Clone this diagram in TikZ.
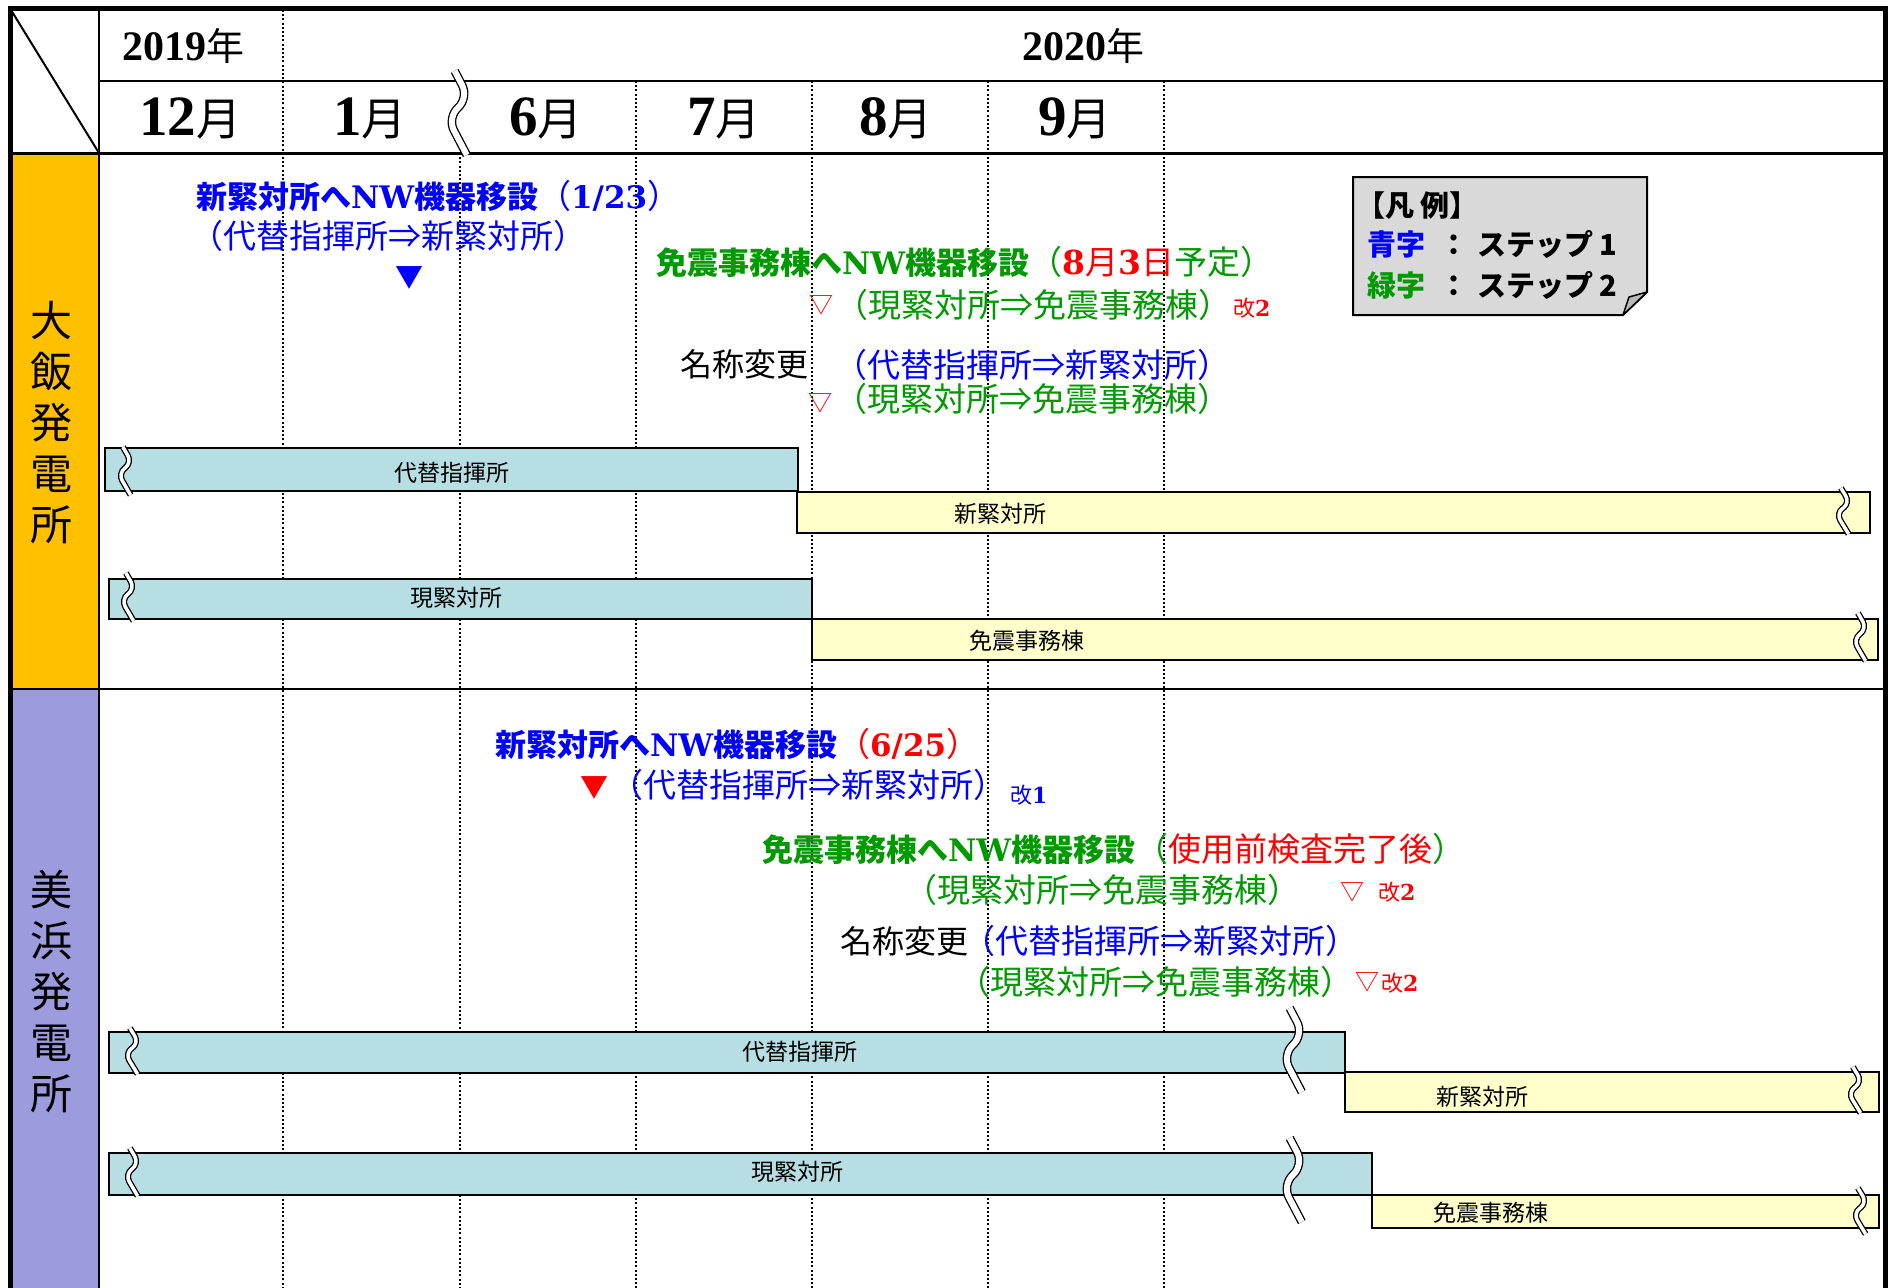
\documentclass[tikz,border=0pt]{standalone}
\usepackage{fontspec}
\setmainfont{Noto Sans CJK JP}
\newfontfamily\jpf{Noto Sans CJK JP}
\newfontfamily\lsf{Liberation Serif}
\newfontfamily\dsf{DejaVu Serif}
\definecolor{myblue}{RGB}{0,0,255}
\definecolor{mygreen}{RGB}{0,153,0}
\definecolor{myred}{RGB}{255,0,0}
\definecolor{orng}{RGB}{255,192,0}
\definecolor{purp}{RGB}{155,155,222}
\definecolor{teal1}{RGB}{183,222,226}
\definecolor{yel1}{RGB}{255,255,204}
\definecolor{leggray}{RGB}{217,217,217}
\definecolor{foldgray}{RGB}{185,185,185}
\newcommand\fsz[1]{\fontsize{#1}{#1}\selectfont}
\newcommand\latb[1]{{\dsf\bfseries #1}}
\newcommand\rg[1]{{\mdseries\fsz{33}#1}}
% break mark: x, y, half height, amplitude, gap
\newcommand\brkmark[5]{\draw[brkline, double distance=#5, rounded corners=#3*0.35, shift={(#1,#2)}]
  ({-0.3*#4},-#3) -- (#4,{-0.35*#3}) -- ({-#4},{0.1*#3}) -- ({0.8*#4},#3);}
\begin{document}
\begin{tikzpicture}[x=1pt,y=-1pt,
  every node/.style={inner sep=0pt, outer sep=0pt},
  dotl/.style={line width=1.8pt, dash pattern=on 2pt off 2.2pt},
  gridl/.style={line width=2.5pt},
  barbox/.style={draw=black, line width=2pt, anchor=north west},
  tbar/.style={barbox, fill=teal1},
  ybar/.style={barbox, fill=yel1},
  brkline/.style={line width=1.3pt, double=white},
  lbl/.style={font=\jpf\fsz{23}, anchor=center},
  paren/.style={anchor=base west, font=\jpf\fsz{33}},
  ttl/.style={anchor=base west, font=\jpf\bfseries\fsz{31}},
  kai/.style={anchor=base west, font=\jpf\fsz{22}},
  tri/.style={anchor=center, font=\jpf\fsz{24}},
  trif/.style={anchor=center, font=\jpf\fsz{28}},
  leg/.style={anchor=base west, font=\jpf\bfseries\fsz{29}},
  stn/.style={align=center, font=\jpf\fontsize{42}{51}\selectfont}
]
\useasboundingbox (0,0) rectangle (1888,1288);
\fill[white] (0,0) rectangle (1888,1288);
% label column fills
\fill[orng] (10,153) rectangle (99,689);
\fill[purp] (10,689) rectangle (99,1288);
% dotted month lines
\draw[dotl] (283,10) -- (283,1288);
\draw[dotl] (460,153) -- (460,1288);
\foreach \xx in {636,812,988,1164} \draw[dotl] (\xx,81) -- (\xx,1288);
% grid lines
\draw[gridl] (99,81) -- (1885,81);
\draw[line width=3pt] (10,153) -- (1885,153);
\draw[gridl] (99,8) -- (99,1288);
\draw[gridl] (10,689) -- (1885,689);
\draw[line width=2pt] (11,10) -- (99,153);
% outer frame
\draw[line width=5pt] (10,1288) -- (10,8) -- (1885,8) -- (1885,1288);
% header
\node[anchor=base] (y19) at (183,60) {\lsf\bfseries\fsz{42}2019{\jpf\mdseries\fsz{38}年}};
\node[anchor=base] (y20) at (1083,60) {\lsf\bfseries\fsz{42}2020{\jpf\mdseries\fsz{38}年}};
\node[anchor=base] (m12) at (190,135) {\lsf\bfseries\fsz{57}12{\jpf\mdseries\fsz{45}月}};
\node[anchor=base] (m01) at (370,135) {\lsf\bfseries\fsz{57}1{\jpf\mdseries\fsz{45}月}};
\node[anchor=base] (m06) at (546,135) {\lsf\bfseries\fsz{57}6{\jpf\mdseries\fsz{45}月}};
\node[anchor=base] (m07) at (724,135) {\lsf\bfseries\fsz{57}7{\jpf\mdseries\fsz{45}月}};
\node[anchor=base] (m08) at (896,135) {\lsf\bfseries\fsz{57}8{\jpf\mdseries\fsz{45}月}};
\node[anchor=base] (m09) at (1075,135) {\lsf\bfseries\fsz{57}9{\jpf\mdseries\fsz{45}月}};
\brkmark{458}{113}{42}{11}{6pt}
% station labels
\node[stn] (s1) at (51,423) {大\\飯\\発\\電\\所};
\node[stn] (s2) at (51,992) {美\\浜\\発\\電\\所};
% bars section 1
\node[tbar, minimum width=693pt, minimum height=43pt] (b1) at (105,448) {};
\node[ybar, minimum width=1073pt, minimum height=41pt] (b2) at (797,492) {};
\node[tbar, minimum width=703pt, minimum height=40pt] (b3) at (109,579) {};
\node[ybar, minimum width=1066pt, minimum height=41pt] (b4) at (812,619) {};
\node[lbl] (b1l) at (452,473) {代替指揮所};
\node[lbl] (b2l) at (1000,514) {新緊対所};
\node[lbl] (b3l) at (456,598) {現緊対所};
\node[lbl] (b4l) at (1027,641) {免震事務棟};
\brkmark{125}{471}{24}{7}{3.5pt}
\brkmark{128}{597}{24}{7}{3.5pt}
\brkmark{1843}{511}{23}{7}{3.5pt}
\brkmark{1860}{637}{24}{7}{3.5pt}
% bars section 2
\node[tbar, minimum width=1236pt, minimum height=41pt] (c1) at (109,1032) {};
\node[ybar, minimum width=534pt, minimum height=40pt] (c2) at (1345,1072) {};
\node[tbar, minimum width=1263pt, minimum height=42pt] (c3) at (109,1153) {};
\node[ybar, minimum width=507pt, minimum height=33pt] (c4) at (1372,1195) {};
\node[lbl] (c1l) at (800,1052) {代替指揮所};
\node[lbl] (c2l) at (1482,1097) {新緊対所};
\node[lbl] (c3l) at (797,1172) {現緊対所};
\node[lbl] (c4l) at (1491,1213) {免震事務棟};
\brkmark{132}{1051}{23}{7}{3.5pt}
\brkmark{132}{1172}{24}{7}{3.5pt}
\brkmark{1293}{1050}{42}{11}{6pt}
\brkmark{1293}{1180}{42}{11}{6pt}
\brkmark{1855}{1090}{23}{7}{3.5pt}
\brkmark{1860}{1211}{23}{7}{3.5pt}
% section 1 texts
\node[ttl, myblue] (t1a) at (196,208) {新緊対所へ\latb{NW}機器移設\rg{（}\latb{1/23}\rg{）}};
\node[paren, myblue] (t1b) at (190,248) {（代替指揮所⇒新緊対所）};
\node[trif, myblue] (v1) at (409,278) {▼};
\node[ttl, mygreen] (t1c) at (656,274) {免震事務棟へ\latb{NW}機器移設\rg{（\textcolor{myred}{\latb{8}月\latb{3}日}予定）}};
\node[tri, myred] (v2) at (821,305) {▽};
\node[paren, mygreen] (t1d) at (835,317) {（現緊対所⇒免震事務棟）};
\node[kai, myred] (k1) at (1233,316) {改\latb{2}};
\node[paren, black, font=\jpf\fsz{32}] (n1) at (680,376) {名称変更};
\node[paren, myblue] (t1e) at (834,377) {（代替指揮所⇒新緊対所）};
\node[tri, myred] (v3) at (820,403) {▽};
\node[paren, mygreen] (t1f) at (834,411) {（現緊対所⇒免震事務棟）};
% section 2 texts
\node[ttl, myblue] (t2a) at (495,756) {新緊対所へ\latb{NW}機器移設{\color{myred}\rg{（}\latb{6/25}\rg{）}}};
\node[trif, myred] (v4) at (594,788) {▼};
\node[paren, myblue] (t2b) at (610,797) {（代替指揮所⇒新緊対所）};
\node[kai, myblue] (k2) at (1010,803) {改\latb{1}};
\node[ttl, mygreen] (t2c) at (762,861) {免震事務棟へ\latb{NW}機器移設\rg{（\textcolor{myred}{使用前検査完了後}）}};
\node[paren, mygreen] (t2d) at (904,902) {（現緊対所⇒免震事務棟）};
\node[tri, myred] (v5) at (1352,892) {▽};
\node[kai, myred] (k3) at (1378,900) {改\latb{2}};
\node[paren, black, font=\jpf\fsz{32}] (n2) at (840,953) {名称変更};
\node[paren, myblue] (t2e) at (962,953) {（代替指揮所⇒新緊対所）};
\node[paren, mygreen] (t2f) at (957,994) {（現緊対所⇒免震事務棟）};
\node[tri, myred] (v6) at (1367,982) {▽};
\node[kai, myred] (k4) at (1381,991) {改\latb{2}};
% legend
\draw[fill=leggray, line width=2pt] (1353,177) -- (1647,177) -- (1647,292) -- (1623,315) -- (1353,315) -- cycle;
\draw[fill=foldgray, line width=1.5pt, line join=round] (1623,315) -- (1647,292) -- (1629,297) -- cycle;
\node[leg] (lg0) at (1356,216) {【凡 例】};
\node[leg] (lg1) at (1367,255) {\textcolor{myblue}{青字}\hspace{14pt}：\hspace{10pt}ステップ\hspace{6pt}1};
\node[leg] (lg2) at (1367,296) {\textcolor{mygreen}{緑字}\hspace{14pt}：\hspace{10pt}ステップ\hspace{6pt}2};
\end{tikzpicture}
\end{document}
